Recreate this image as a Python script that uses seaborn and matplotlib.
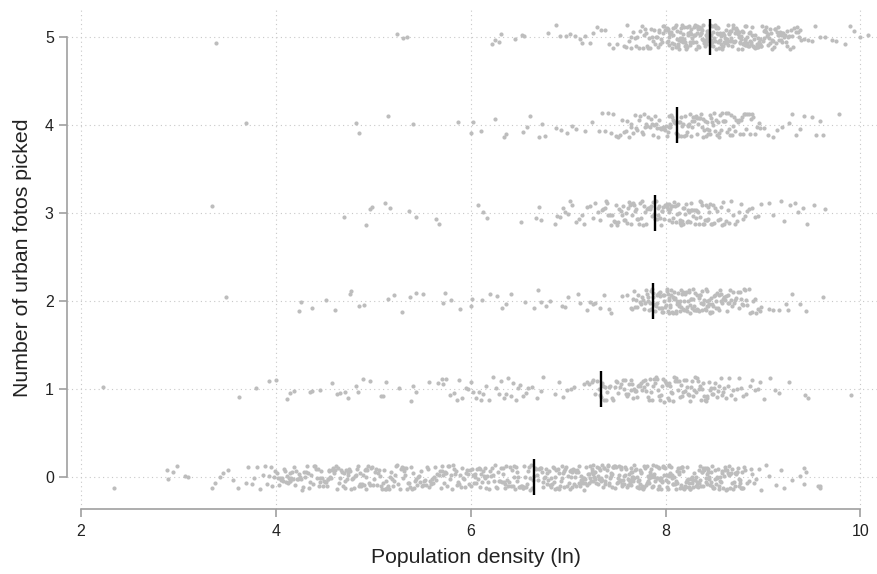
import numpy as np
import pandas as pd
import matplotlib
matplotlib.use('Agg')
import matplotlib.pyplot as plt
import seaborn as sns

plt.rcParams['font.family'] = ['Liberation Sans', 'DejaVu Sans']

# population density (ln) of each respondent, grouped by number of urban fotos picked
fotos_0 = [
    2.34, 2.88, 2.89, 2.94, 2.99, 3.07, 3.10, 3.34, 3.38, 3.43, 3.46, 3.51, 3.56, 3.61,
    3.69, 3.71, 3.75, 3.78, 3.81, 3.84, 3.87, 3.89, 3.91, 3.93, 3.95, 3.96, 3.98, 3.99,
    4.01, 4.02, 4.03, 4.04, 4.05, 4.06, 4.07, 4.08, 4.09,
    4.10, 4.11, 4.12, 4.13, 4.14, 4.14, 4.15, 4.16, 4.17, 4.18, 4.19,
    4.20, 4.21, 4.22, 4.23, 4.24, 4.25, 4.26, 4.27, 4.28, 4.29,
    4.30, 4.31, 4.32, 4.33, 4.34, 4.35, 4.36, 4.38, 4.39,
    4.40, 4.41, 4.42, 4.43, 4.44, 4.45, 4.45, 4.46, 4.47, 4.48, 4.49,
    4.50, 4.51, 4.52, 4.53, 4.54, 4.55, 4.55, 4.56, 4.57, 4.58, 4.59,
    4.60, 4.61, 4.62, 4.63, 4.64, 4.65, 4.66, 4.67, 4.68, 4.69,
    4.70, 4.71, 4.71, 4.72, 4.73, 4.74, 4.74, 4.75, 4.76, 4.77, 4.78, 4.79,
    4.80, 4.81, 4.82, 4.83, 4.84, 4.85, 4.86, 4.86, 4.87, 4.88, 4.89,
    4.90, 4.91, 4.92, 4.92, 4.93, 4.94, 4.95, 4.96, 4.97, 4.98, 4.99,
    5.00, 5.01, 5.02, 5.03, 5.04, 5.05, 5.06, 5.07, 5.08, 5.09,
    5.10, 5.11, 5.12, 5.13, 5.13, 5.14, 5.15, 5.16, 5.17, 5.18, 5.19,
    5.20, 5.21, 5.22, 5.23, 5.24, 5.25, 5.27, 5.28, 5.29,
    5.30, 5.31, 5.32, 5.33, 5.34, 5.35, 5.36, 5.37, 5.38, 5.39,
    5.40, 5.41, 5.42, 5.43, 5.44, 5.45, 5.46, 5.47, 5.48, 5.49,
    5.50, 5.51, 5.52, 5.53, 5.54, 5.55, 5.56, 5.57, 5.58, 5.59,
    5.60, 5.61, 5.62, 5.63, 5.64, 5.65, 5.67, 5.68, 5.69,
    5.70, 5.71, 5.72, 5.73, 5.74, 5.74, 5.75, 5.76, 5.77, 5.78, 5.79,
    5.80, 5.81, 5.82, 5.83, 5.84, 5.85, 5.86, 5.87, 5.88, 5.89,
    5.90, 5.91, 5.92, 5.93, 5.94, 5.95, 5.96, 5.97, 5.98, 5.99,
    6.00, 6.01, 6.02, 6.03, 6.04, 6.04, 6.05, 6.06, 6.07, 6.08, 6.09,
    6.10, 6.11, 6.12, 6.13, 6.14, 6.15, 6.15, 6.16, 6.17, 6.18, 6.19,
    6.20, 6.21, 6.22, 6.23, 6.24, 6.25, 6.26, 6.27, 6.28, 6.29,
    6.30, 6.31, 6.32, 6.33, 6.33, 6.34, 6.35, 6.35, 6.36, 6.37, 6.38, 6.39,
    6.40, 6.41, 6.42, 6.43, 6.44, 6.44, 6.45, 6.46, 6.47, 6.48, 6.49,
    6.50, 6.51, 6.52, 6.53, 6.54, 6.54, 6.55, 6.55, 6.56, 6.57, 6.58, 6.59,
    6.60, 6.61, 6.61, 6.62, 6.63, 6.64, 6.65, 6.66, 6.67, 6.68, 6.69,
    6.70, 6.71, 6.72, 6.73, 6.74, 6.74, 6.75, 6.76, 6.77, 6.78, 6.78, 6.79,
    6.80, 6.81, 6.82, 6.82, 6.83, 6.84, 6.85, 6.85, 6.86, 6.87, 6.88, 6.89,
    6.90, 6.91, 6.91, 6.92, 6.93, 6.94, 6.94, 6.95, 6.96, 6.96, 6.97, 6.98, 6.99,
    7.00, 7.01, 7.02, 7.02, 7.03, 7.03, 7.04, 7.04, 7.05, 7.06, 7.06, 7.07, 7.08, 7.08, 7.09,
    7.10, 7.11, 7.11, 7.12, 7.12, 7.13, 7.13, 7.14, 7.15, 7.15, 7.16, 7.16, 7.17, 7.17, 7.18, 7.19,
    7.20, 7.21, 7.21, 7.22, 7.22, 7.23, 7.24, 7.24, 7.25, 7.25, 7.26, 7.27, 7.27, 7.28, 7.28, 7.29,
    7.30, 7.31, 7.31, 7.32, 7.32, 7.33, 7.34, 7.34, 7.35, 7.35, 7.36, 7.37, 7.37, 7.38, 7.38, 7.39,
    7.40, 7.41, 7.41, 7.42, 7.42, 7.43, 7.44, 7.44, 7.45, 7.45, 7.46, 7.46, 7.47, 7.47, 7.48, 7.48, 7.49,
    7.50, 7.51, 7.51, 7.52, 7.52, 7.53, 7.53, 7.54, 7.54, 7.55, 7.55, 7.56, 7.56, 7.57, 7.57, 7.58, 7.58, 7.59,
    7.60, 7.61, 7.61, 7.62, 7.62, 7.63, 7.63, 7.64, 7.64, 7.65, 7.65, 7.66, 7.66, 7.67, 7.67, 7.68, 7.68, 7.69,
    7.70, 7.71, 7.71, 7.72, 7.72, 7.73, 7.73, 7.74, 7.74, 7.75, 7.75, 7.76, 7.76, 7.77, 7.77, 7.78, 7.78, 7.79,
    7.80, 7.81, 7.81, 7.82, 7.82, 7.83, 7.83, 7.84, 7.84, 7.85, 7.85, 7.86, 7.86, 7.87, 7.87, 7.88, 7.88, 7.89,
    7.90, 7.91, 7.91, 7.92, 7.92, 7.93, 7.93, 7.94, 7.94, 7.95, 7.95, 7.96, 7.96, 7.97, 7.97, 7.98, 7.98, 7.99,
    8.00, 8.01, 8.01, 8.02, 8.02, 8.03, 8.04, 8.04, 8.05, 8.05, 8.06, 8.07, 8.07, 8.08, 8.08, 8.09,
    8.10, 8.11, 8.11, 8.12, 8.12, 8.13, 8.14, 8.14, 8.15, 8.15, 8.16, 8.17, 8.17, 8.18, 8.18, 8.19,
    8.20, 8.21, 8.21, 8.22, 8.22, 8.23, 8.24, 8.24, 8.25, 8.25, 8.26, 8.27, 8.27, 8.28, 8.28, 8.29,
    8.30, 8.31, 8.31, 8.32, 8.32, 8.33, 8.34, 8.34, 8.35, 8.35, 8.36, 8.37, 8.37, 8.38, 8.38, 8.39,
    8.40, 8.41, 8.41, 8.42, 8.42, 8.43, 8.44, 8.44, 8.45, 8.45, 8.46, 8.47, 8.47, 8.48, 8.48, 8.49,
    8.50, 8.51, 8.51, 8.52, 8.53, 8.53, 8.54, 8.55, 8.55, 8.56, 8.56, 8.57, 8.58, 8.58, 8.59,
    8.60, 8.61, 8.61, 8.62, 8.63, 8.63, 8.64, 8.65, 8.65, 8.66, 8.66, 8.67, 8.68, 8.68, 8.69,
    8.70, 8.71, 8.71, 8.72, 8.73, 8.73, 8.74, 8.75, 8.75, 8.76, 8.76, 8.77, 8.78, 8.78, 8.79,
    8.80, 8.82, 8.84, 8.86, 8.88, 8.89, 8.91, 8.93, 8.96, 8.98,
    9.03, 9.06, 9.13, 9.18, 9.22, 9.30, 9.38, 9.42, 9.42, 9.44, 9.56, 9.58, 9.58,
]

fotos_1 = [
    2.23, 3.62, 3.80, 3.93, 4.00, 4.11, 4.14, 4.19, 4.35, 4.37, 4.45, 4.58, 4.63, 4.66,
    4.71, 4.74, 4.82, 4.84, 4.89, 4.97, 5.08, 5.10, 5.13, 5.26, 5.39, 5.41, 5.44, 5.57,
    5.66, 5.70, 5.72, 5.75, 5.79, 5.83, 5.86, 5.88, 5.91, 5.95, 5.97,
    6.00, 6.02, 6.05, 6.08, 6.11, 6.13, 6.16, 6.19,
    6.23, 6.26, 6.29, 6.31, 6.34, 6.36, 6.38, 6.41, 6.43, 6.46, 6.49, 6.51, 6.54, 6.57, 6.59,
    6.63, 6.68, 6.72, 6.74, 6.87, 6.91, 6.95, 6.99, 7.03, 7.06,
    7.16, 7.19, 7.21, 7.24, 7.26, 7.28, 7.30, 7.32,
    7.33, 7.34, 7.35, 7.36, 7.37, 7.38, 7.39,
    7.40, 7.42, 7.43, 7.45, 7.46, 7.48, 7.49,
    7.50, 7.51, 7.53, 7.54, 7.56, 7.57, 7.58, 7.59,
    7.60, 7.61, 7.62, 7.64, 7.65, 7.66, 7.67, 7.68, 7.69,
    7.70, 7.71, 7.72, 7.73, 7.74, 7.75, 7.76, 7.77, 7.78, 7.79,
    7.80, 7.81, 7.82, 7.83, 7.84, 7.85, 7.86, 7.87, 7.88, 7.89,
    7.90, 7.91, 7.92, 7.93, 7.94, 7.95, 7.96, 7.97, 7.98, 7.99,
    8.00, 8.01, 8.02, 8.03, 8.04, 8.05, 8.06, 8.07, 8.08, 8.09,
    8.10, 8.11, 8.12, 8.13, 8.14, 8.15, 8.16, 8.17, 8.18, 8.19,
    8.20, 8.21, 8.22, 8.23, 8.24, 8.25, 8.26, 8.27, 8.28, 8.29,
    8.30, 8.31, 8.32, 8.33, 8.34, 8.35, 8.36, 8.37, 8.38, 8.39,
    8.40, 8.41, 8.42, 8.43, 8.45, 8.46, 8.47, 8.48, 8.49,
    8.50, 8.51, 8.53, 8.54, 8.55, 8.57, 8.58, 8.59,
    8.60, 8.62, 8.64, 8.65, 8.67, 8.69,
    8.71, 8.73, 8.75, 8.77, 8.79,
    8.83, 8.87, 8.89, 8.92, 8.95, 8.97, 9.01, 9.07, 9.12, 9.16, 9.27, 9.43, 9.46, 9.90,
]

fotos_2 = [
    3.49, 4.24, 4.26, 4.37, 4.51, 4.61, 4.76, 4.77, 4.85, 4.90,
    5.15, 5.21, 5.29, 5.38, 5.44, 5.51, 5.72, 5.74, 5.80, 5.89,
    6.00, 6.01, 6.12, 6.20, 6.27, 6.32, 6.36, 6.41, 6.56, 6.65,
    6.69, 6.72, 6.77, 6.81, 6.94, 6.97, 7.00, 7.10, 7.12, 7.19,
    7.22, 7.26, 7.28, 7.33, 7.37, 7.42, 7.44, 7.55, 7.60,
    7.65, 7.66, 7.67, 7.68, 7.69,
    7.70, 7.71, 7.72, 7.74, 7.75, 7.76, 7.77, 7.78, 7.79,
    7.80, 7.81, 7.82, 7.82, 7.83, 7.84, 7.85, 7.85, 7.86, 7.87, 7.87, 7.88, 7.89,
    7.90, 7.91, 7.91, 7.92, 7.93, 7.93, 7.94, 7.94, 7.95, 7.96, 7.96, 7.97, 7.97, 7.98, 7.98, 7.99,
    8.00, 8.01, 8.01, 8.02, 8.02, 8.03, 8.04, 8.04, 8.05, 8.05, 8.06, 8.06, 8.07, 8.08, 8.08, 8.09, 8.09,
    8.10, 8.11, 8.11, 8.12, 8.12, 8.13, 8.14, 8.14, 8.15, 8.15, 8.16, 8.16, 8.17, 8.18, 8.18, 8.19, 8.19,
    8.20, 8.21, 8.21, 8.22, 8.22, 8.23, 8.24, 8.24, 8.25, 8.25, 8.26, 8.26, 8.27, 8.28, 8.28, 8.29, 8.29,
    8.30, 8.31, 8.31, 8.32, 8.32, 8.33, 8.34, 8.34, 8.35, 8.35, 8.36, 8.37, 8.37, 8.38, 8.38, 8.39,
    8.40, 8.41, 8.41, 8.42, 8.43, 8.43, 8.44, 8.45, 8.45, 8.46, 8.46, 8.47, 8.48, 8.48, 8.49,
    8.50, 8.51, 8.52, 8.52, 8.53, 8.54, 8.55, 8.55, 8.56, 8.57, 8.57, 8.58, 8.59,
    8.60, 8.61, 8.62, 8.63, 8.64, 8.64, 8.65, 8.66, 8.67, 8.68, 8.69,
    8.70, 8.71, 8.72, 8.74, 8.75, 8.76, 8.77, 8.78, 8.79,
    8.80, 8.81, 8.83, 8.84, 8.86, 8.87, 8.89,
    8.90, 8.92, 8.93, 8.95, 8.97, 8.98,
    9.06, 9.10, 9.16, 9.24, 9.26, 9.30, 9.38, 9.44, 9.62,
]

fotos_3 = [
    3.34, 4.70, 4.93, 4.97, 4.99, 5.12, 5.17, 5.37, 5.44, 5.64, 5.67, 6.07, 6.13, 6.17,
    6.52, 6.67, 6.70, 6.72,
    6.86, 6.89, 6.92, 6.95, 6.97, 7.00, 7.02, 7.04,
    7.08, 7.11, 7.14, 7.16, 7.19, 7.22, 7.25, 7.28, 7.31, 7.33,
    7.35, 7.36, 7.38, 7.39,
    7.40, 7.41, 7.43, 7.44, 7.45, 7.47, 7.48, 7.49,
    7.50, 7.51, 7.52, 7.54, 7.55, 7.56, 7.57, 7.58, 7.59,
    7.60, 7.61, 7.62, 7.63, 7.64, 7.65, 7.66, 7.67, 7.68, 7.69,
    7.70, 7.71, 7.72, 7.73, 7.74, 7.75, 7.76, 7.77, 7.78, 7.79,
    7.80, 7.81, 7.82, 7.83, 7.84, 7.84, 7.85, 7.86, 7.87, 7.88, 7.89,
    7.90, 7.91, 7.92, 7.92, 7.93, 7.94, 7.95, 7.96, 7.96, 7.97, 7.98, 7.99,
    8.00, 8.01, 8.01, 8.02, 8.03, 8.04, 8.04, 8.05, 8.06, 8.07, 8.07, 8.08, 8.09,
    8.10, 8.11, 8.12, 8.12, 8.13, 8.14, 8.15, 8.15, 8.16, 8.17, 8.18, 8.18, 8.19,
    8.20, 8.21, 8.22, 8.23, 8.23, 8.24, 8.25, 8.26, 8.26, 8.27, 8.28, 8.29,
    8.30, 8.31, 8.31, 8.32, 8.33, 8.34, 8.35, 8.35, 8.36, 8.37, 8.38, 8.39,
    8.40, 8.41, 8.42, 8.43, 8.44, 8.44, 8.45, 8.46, 8.47, 8.48, 8.49,
    8.50, 8.51, 8.53, 8.54, 8.56, 8.57, 8.58, 8.59,
    8.60, 8.62, 8.64, 8.65, 8.67, 8.69,
    8.71, 8.73, 8.75, 8.77, 8.79,
    8.81, 8.84, 8.86, 8.89,
    8.92, 8.95, 8.98,
    9.06, 9.10, 9.18, 9.22, 9.28, 9.33, 9.36, 9.41, 9.45, 9.52, 9.64,
]

fotos_4 = [
    3.69, 4.82, 4.85, 5.15, 5.41, 5.87, 6.00, 6.02, 6.11, 6.25, 6.34, 6.36, 6.54,
    6.58, 6.61, 6.70, 6.73, 6.76, 6.88, 6.93, 6.99, 7.04, 7.08, 7.17, 7.24,
    7.32, 7.35, 7.38,
    7.41, 7.44, 7.46, 7.49,
    7.51, 7.53, 7.55, 7.57, 7.59,
    7.60, 7.62, 7.64, 7.65, 7.67, 7.69,
    7.70, 7.71, 7.73, 7.74, 7.76, 7.77, 7.78, 7.79,
    7.80, 7.81, 7.82, 7.84, 7.85, 7.86, 7.87, 7.88, 7.89,
    7.90, 7.91, 7.92, 7.93, 7.94, 7.95, 7.96, 7.97, 7.98, 7.99,
    8.00, 8.01, 8.02, 8.03, 8.04, 8.05, 8.05, 8.06, 8.07, 8.08, 8.09,
    8.10, 8.11, 8.12, 8.13, 8.13, 8.14, 8.15, 8.16, 8.16, 8.17, 8.18, 8.19,
    8.20, 8.21, 8.22, 8.23, 8.23, 8.24, 8.25, 8.26, 8.27, 8.27, 8.28, 8.29,
    8.30, 8.31, 8.32, 8.32, 8.33, 8.34, 8.35, 8.36, 8.37, 8.38, 8.38, 8.39,
    8.40, 8.41, 8.42, 8.43, 8.44, 8.45, 8.46, 8.46, 8.47, 8.48, 8.49,
    8.50, 8.51, 8.52, 8.53, 8.54, 8.55, 8.55, 8.56, 8.57, 8.58, 8.59,
    8.60, 8.61, 8.62, 8.63, 8.64, 8.65, 8.66, 8.67, 8.68, 8.69,
    8.70, 8.71, 8.72, 8.74, 8.75, 8.76, 8.77, 8.78, 8.79,
    8.80, 8.81, 8.83, 8.84, 8.86, 8.87, 8.88, 8.89,
    8.90, 8.92, 8.94, 8.96,
    8.97, 9.01, 9.05, 9.10, 9.14, 9.19, 9.27, 9.30, 9.34, 9.38, 9.42, 9.50, 9.54,
    9.58, 9.62, 9.78,
]

fotos_5 = [
    3.39, 5.24, 5.30, 5.35, 6.22, 6.25, 6.29, 6.31, 6.45, 6.53, 6.55, 6.79, 6.88, 6.92, 6.98,
    7.02, 7.07, 7.12, 7.14, 7.17, 7.22, 7.26, 7.30, 7.34, 7.38, 7.42, 7.46, 7.50, 7.53,
    7.57, 7.59,
    7.60, 7.62, 7.64, 7.65, 7.67, 7.69,
    7.70, 7.71, 7.73, 7.74, 7.76, 7.77, 7.78, 7.79,
    7.80, 7.81, 7.82, 7.83, 7.84, 7.85, 7.86, 7.87, 7.88, 7.89,
    7.90, 7.91, 7.92, 7.93, 7.93, 7.94, 7.95, 7.96, 7.97, 7.97, 7.98, 7.99,
    8.00, 8.01, 8.01, 8.02, 8.02, 8.03, 8.04, 8.04, 8.05, 8.05, 8.06, 8.07, 8.07, 8.08, 8.08, 8.09,
    8.10, 8.11, 8.11, 8.12, 8.12, 8.13, 8.13, 8.14, 8.14, 8.15, 8.15, 8.16, 8.16, 8.17, 8.17,
    8.18, 8.18, 8.19, 8.19,
    8.20, 8.20, 8.21, 8.21, 8.22, 8.22, 8.23, 8.23, 8.24, 8.24, 8.25, 8.25, 8.25, 8.26, 8.26,
    8.27, 8.27, 8.28, 8.28, 8.29, 8.29,
    8.30, 8.30, 8.31, 8.31, 8.32, 8.32, 8.33, 8.33, 8.33, 8.34, 8.34, 8.35, 8.35, 8.36, 8.36,
    8.36, 8.37, 8.37, 8.38, 8.38, 8.39, 8.39,
    8.40, 8.40, 8.41, 8.41, 8.42, 8.42, 8.42, 8.43, 8.43, 8.44, 8.44, 8.45, 8.45, 8.46, 8.46,
    8.47, 8.47, 8.47, 8.48, 8.48, 8.49, 8.49,
    8.50, 8.50, 8.51, 8.51, 8.52, 8.52, 8.53, 8.53, 8.54, 8.54, 8.54, 8.55, 8.55, 8.56, 8.56,
    8.57, 8.57, 8.58, 8.58, 8.59, 8.59,
    8.60, 8.60, 8.61, 8.61, 8.62, 8.62, 8.63, 8.63, 8.64, 8.64, 8.65, 8.65, 8.66, 8.66, 8.67,
    8.67, 8.68, 8.68, 8.69, 8.69,
    8.70, 8.71, 8.71, 8.72, 8.72, 8.73, 8.73, 8.74, 8.74, 8.75, 8.75, 8.76, 8.76, 8.77, 8.77,
    8.78, 8.78, 8.79, 8.79,
    8.80, 8.81, 8.81, 8.82, 8.82, 8.83, 8.83, 8.84, 8.84, 8.85, 8.86, 8.86, 8.87, 8.87, 8.88,
    8.88, 8.89, 8.89,
    8.90, 8.91, 8.91, 8.92, 8.92, 8.93, 8.94, 8.94, 8.95, 8.95, 8.96, 8.96, 8.97, 8.97, 8.98,
    8.98, 8.99,
    9.00, 9.01, 9.01, 9.02, 9.03, 9.03, 9.04, 9.05, 9.05, 9.06, 9.07, 9.07, 9.08, 9.09, 9.09,
    9.10, 9.11, 9.12, 9.12, 9.13, 9.14, 9.15, 9.15, 9.16, 9.17, 9.18, 9.18, 9.19,
    9.20, 9.21, 9.22, 9.23, 9.24, 9.25, 9.25, 9.26, 9.27, 9.28, 9.29,
    9.30, 9.31, 9.32, 9.34, 9.35, 9.36, 9.37, 9.38, 9.39,
    9.42, 9.46, 9.50, 9.53, 9.58, 9.64, 9.71, 9.75, 9.84, 9.89, 9.93, 10.00, 10.08,
]

categories = [0, 1, 2, 3, 4, 5]
# group means marked by the black bars
means = [6.65, 7.34, 7.87, 7.89, 8.12, 8.46]
x_ticks = [2, 4, 6, 8, 10]

groups = [fotos_0, fotos_1, fotos_2, fotos_3, fotos_4, fotos_5]
df = pd.concat(
    [pd.DataFrame({'density': g, 'fotos': c}) for c, g in zip(categories, groups)],
    ignore_index=True,
)

np.random.seed(7)
fig = plt.figure(figsize=(8.77, 5.74), dpi=100)
ax = fig.add_axes([0.0764, 0.1132, 0.9236, 0.8746])

sns.stripplot(
    data=df, x='density', y='fotos', orient='h', native_scale=True,
    jitter=0.14, size=3, color='#bdbdbd', linewidth=0, ax=ax, zorder=2,
)
cats = np.array(categories)
ax.vlines(means, cats - 0.205, cats + 0.205, color='black', lw=1.7, zorder=3)

ax.set_xlim(1.856, 10.17)
ax.set_ylim(-0.36, 5.34)
ax.set_xticks(x_ticks)
ax.set_yticks(categories)
ax.grid(True, linestyle=(0, (1, 3)), color='#c8c8c8', lw=0.8)
ax.set_axisbelow(True)

for s in ['top', 'right']:
    ax.spines[s].set_visible(False)
for s in ['left', 'bottom']:
    ax.spines[s].set_color('#a0a0a0')
    ax.spines[s].set_linewidth(1.2)
ax.spines['left'].set_bounds(0, 5)
ax.spines['bottom'].set_bounds(2, 10)

ax.tick_params(length=6, width=1.2, color='#a0a0a0', labelsize=11.5, labelcolor='#222222')
ax.tick_params(axis='x', pad=5)
ax.tick_params(axis='y', pad=3.5)

ax.set_xlabel('Population density (ln)', fontsize=15.3, color='#222222')
ax.set_ylabel('Number of urban fotos picked', fontsize=15.3, color='#222222')
ax.xaxis.set_label_coords(0.505, -0.077)
ax.yaxis.set_label_coords(-0.0426, 0.5)

fig.savefig('out.png', dpi=100)
